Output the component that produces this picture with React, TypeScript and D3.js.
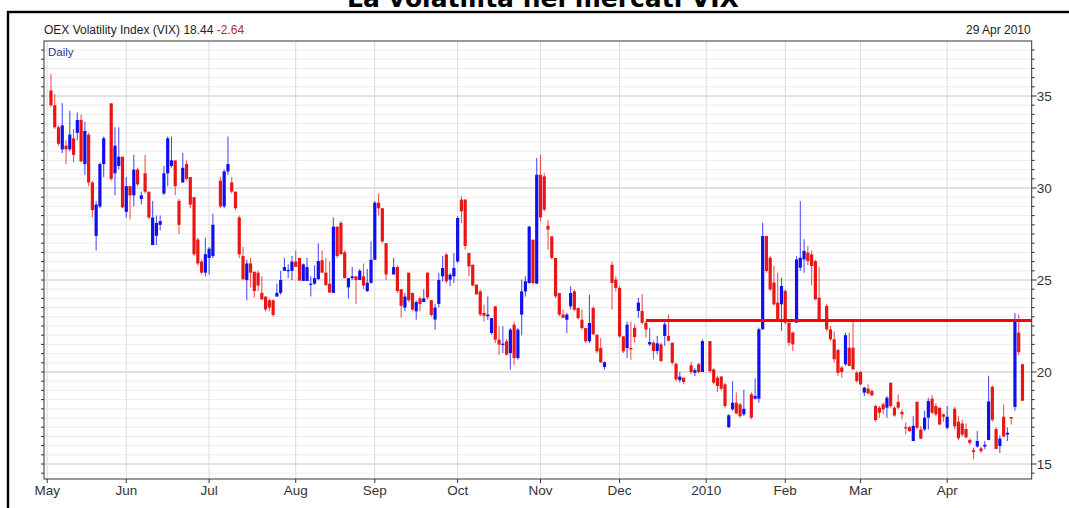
import React from 'react';
import * as d3 from 'd3';

type Row = [number, number, number, number, number]; // day, open, high, low, close

const may09: Row[] = [
  [4, 35.3, 36.2, 34.4, 34.5], [5, 34.5, 35.1, 33.2, 33.3], [6, 33.3, 33.4, 32.3, 32.4],
  [7, 32.1, 34.6, 31.9, 33.4], [8, 32.3, 32.6, 31.3, 32.1], [11, 32.1, 34.2, 32.0, 32.9],
  [12, 32.7, 33.2, 31.4, 31.8], [13, 33.0, 34.1, 32.6, 33.7], [14, 33.7, 34.0, 31.4, 31.45],
  [15, 31.3, 33.6, 30.7, 33.1], [18, 32.9, 33.0, 30.1, 30.3], [19, 30.3, 30.4, 28.4, 28.8],
  [20, 27.4, 29.3, 26.6, 29.1], [21, 29.0, 31.4, 28.9, 31.3], [22, 31.3, 32.8, 30.6, 32.7],
  [26, 34.6, 34.6, 30.4, 30.5], [27, 30.8, 33.3, 29.6, 32.3], [28, 31.2, 33.3, 31.0, 31.7],
  [29, 31.7, 31.7, 28.9, 28.95],
];
const jun09: Row[] = [
  [1, 28.7, 30.6, 28.4, 30.1], [2, 30.1, 30.1, 28.3, 29.6], [3, 29.6, 31.8, 29.0, 31.0],
  [4, 31.0, 31.1, 30.1, 30.2], [5, 29.4, 29.8, 29.1, 29.6], [8, 30.8, 31.8, 29.7, 29.8],
  [9, 29.8, 29.8, 28.3, 28.4], [10, 26.9, 29.3, 26.9, 28.4], [11, 27.4, 28.5, 26.9, 28.1],
  [12, 28.0, 28.5, 27.7, 28.2], [15, 29.7, 31.2, 29.6, 30.8], [16, 30.8, 32.8, 30.1, 32.7],
  [17, 31.2, 32.8, 31.1, 31.5], [18, 31.5, 31.5, 29.6, 30.1], [19, 29.3, 29.4, 27.5, 28.0],
  [22, 30.3, 31.9, 30.3, 31.1], [23, 31.3, 31.5, 30.4, 30.5], [24, 30.6, 30.6, 28.9, 29.1],
  [25, 29.5, 29.5, 26.3, 26.4], [26, 27.2, 27.3, 25.8, 25.9], [29, 26.0, 26.1, 25.3, 25.4],
  [30, 25.4, 27.3, 25.2, 26.4],
];
const jul09: Row[] = [
  [1, 26.2, 26.8, 25.3, 26.7], [2, 26.3, 28.6, 26.2, 28.0], [6, 30.4, 30.6, 28.9, 29.0],
  [7, 29.0, 31.0, 28.9, 30.9], [8, 30.9, 32.8, 30.7, 31.3], [9, 30.3, 30.6, 29.7, 29.8],
  [10, 29.8, 29.8, 28.8, 28.9], [13, 28.4, 28.5, 26.2, 26.4], [14, 26.3, 26.8, 25.0, 25.05],
  [15, 25.0, 26.1, 23.9, 25.9], [16, 25.9, 26.2, 24.6, 25.4], [17, 25.45, 25.45, 24.05, 24.4],
  [20, 25.4, 25.5, 24.4, 24.7], [21, 24.3, 25.2, 23.9, 23.95], [22, 24.1, 24.1, 23.3, 23.4],
  [23, 23.9, 24.0, 23.3, 23.5], [24, 23.9, 23.95, 23.0, 23.1], [27, 24.1, 24.8, 24.1, 24.3],
  [28, 24.3, 25.5, 24.2, 25.0], [29, 25.5, 26.2, 25.5, 25.7], [30, 25.5, 25.85, 25.1, 25.55],
  [31, 25.5, 26.3, 25.0, 26.0],
];
const aug09: Row[] = [
  [3, 26.0, 26.6, 25.7, 25.72], [4, 26.2, 26.2, 24.95, 24.97], [5, 24.95, 25.9, 24.95, 25.85],
  [6, 24.95, 26.2, 24.95, 25.7], [7, 24.75, 25.2, 24.1, 24.8], [10, 24.8, 25.8, 24.75, 25.1],
  [11, 25.04, 27.0, 25.04, 26.03], [12, 26.07, 26.6, 25.4, 25.4], [13, 25.4, 26.2, 24.7, 24.72],
  [14, 24.8, 26.0, 24.3, 24.32], [17, 24.3, 28.4, 24.3, 27.9], [18, 27.9, 27.9, 26.2, 26.3],
  [19, 28.1, 28.2, 26.4, 26.4], [20, 26.5, 26.6, 25.1, 25.1], [21, 24.6, 25.1, 24.0, 25.1],
  [24, 25.1, 25.7, 25.0, 25.2], [25, 25.2, 25.2, 23.7, 25.0], [26, 25.0, 25.6, 25.0, 25.5],
  [27, 25.2, 25.9, 24.5, 24.7], [28, 24.4, 25.6, 24.35, 24.85], [31, 24.85, 27.1, 24.8, 26.1],
];
const sep09: Row[] = [
  [1, 26.1, 29.3, 26.1, 29.2], [2, 29.2, 29.7, 28.5, 28.9], [3, 28.9, 28.9, 27.0, 27.1],
  [4, 27.0, 27.0, 25.0, 25.3], [8, 25.3, 26.2, 25.3, 25.7], [9, 25.7, 25.8, 24.3, 24.4],
  [10, 24.5, 24.5, 22.95, 23.6], [11, 23.5, 24.3, 23.3, 24.1], [14, 25.4, 25.4, 23.8, 23.9],
  [15, 24.3, 24.3, 23.3, 23.4], [16, 23.3, 23.9, 22.85, 23.8], [17, 24.0, 24.1, 23.3, 23.7],
  [18, 23.8, 24.5, 23.8, 24.0], [21, 25.4, 25.4, 23.95, 24.05], [22, 23.9, 23.9, 23.0, 23.1],
  [23, 22.85, 23.7, 22.3, 23.5], [24, 23.7, 25.4, 23.5, 25.0], [25, 25.2, 26.3, 24.9, 25.65],
  [28, 26.38, 26.47, 24.84, 24.93], [29, 25.02, 25.38, 24.66, 25.29], [30, 25.2, 26.47, 24.84, 25.65],
];
const oct09: Row[] = [
  [1, 26.01, 28.46, 25.92, 28.37], [2, 29.37, 29.55, 28.1, 28.73], [5, 29.37, 29.4, 26.65, 26.85],
  [6, 26.47, 26.47, 25.2, 25.74], [7, 25.83, 25.83, 24.66, 24.7], [8, 24.75, 24.75, 24.2, 24.22],
  [9, 24.38, 24.47, 23.03, 23.12], [12, 23.21, 23.66, 22.75, 23.06], [13, 23.03, 24.11, 22.84, 23.12],
  [14, 22.12, 22.93, 22.03, 22.93], [15, 23.57, 23.57, 21.58, 21.76], [16, 21.76, 22.48, 20.94, 21.49],
  [19, 21.49, 22.48, 21.03, 21.54], [20, 21.67, 21.79, 20.89, 20.94], [21, 21.03, 22.39, 20.13, 22.3],
  [22, 22.57, 22.75, 20.4, 20.76], [23, 20.76, 22.39, 20.67, 22.3], [26, 23.12, 25.02, 22.0, 24.38],
  [27, 24.38, 25.2, 24.11, 24.93], [28, 24.84, 27.95, 24.8, 27.9], [29, 27.19, 27.19, 24.75, 24.84],
  [30, 24.8, 31.63, 24.8, 30.72],
];
const nov09: Row[] = [
  [2, 30.72, 31.81, 28.19, 28.4], [3, 30.63, 30.82, 28.73, 28.82], [4, 27.95, 28.28, 26.65, 27.74],
  [5, 27.37, 27.37, 26.11, 26.2], [6, 26.2, 26.2, 24.02, 24.11], [9, 24.29, 24.29, 23.03, 23.12],
  [10, 23.12, 23.39, 22.93, 22.95], [11, 22.84, 23.21, 22.12, 23.12], [12, 23.57, 24.66, 23.39, 24.29],
  [13, 24.38, 24.47, 23.3, 23.39], [16, 23.48, 23.48, 22.84, 22.93], [17, 22.84, 23.39, 22.3, 22.39],
  [18, 22.39, 22.39, 21.58, 21.67], [19, 21.67, 24.2, 21.58, 22.66], [20, 23.48, 23.57, 22.03, 22.05],
  [23, 22.03, 22.03, 21.03, 21.12], [24, 21.3, 21.85, 20.49, 20.53], [25, 20.27, 20.58, 20.13, 20.53],
  [27, 25.83, 26.01, 23.39, 24.84], [30, 25.02, 25.2, 24.38, 24.57],
];
const dec09: Row[] = [
  [1, 24.57, 24.66, 21.85, 21.94], [2, 21.94, 21.94, 21.03, 21.12], [3, 21.3, 22.75, 20.76, 22.57],
  [4, 21.3, 22.75, 20.67, 21.25], [7, 22.4, 22.6, 21.6, 21.9], [8, 23.32, 24.04, 22.95, 23.77],
  [9, 23.32, 24.22, 22.59, 22.68], [10, 22.68, 22.77, 21.87, 22.32], [11, 21.5, 22.41, 21.41, 21.63],
  [14, 21.59, 21.7, 20.69, 21.14], [15, 21.14, 21.96, 20.96, 21.56], [16, 21.5, 21.6, 20.55, 20.6],
  [17, 21.96, 22.72, 21.41, 22.59], [18, 21.96, 23.13, 21.68, 21.7], [21, 21.59, 21.59, 20.4, 20.5],
  [22, 20.45, 20.5, 19.5, 19.6], [23, 19.56, 20.0, 19.42, 19.75], [24, 19.69, 19.69, 19.33, 19.46],
  [28, 20.36, 20.55, 19.87, 20.0], [29, 19.96, 20.2, 19.78, 20.1], [30, 20.42, 20.5, 19.93, 20.0],
  [31, 20.0, 21.77, 20.0, 21.68],
];
const jan10: Row[] = [
  [4, 21.68, 21.68, 19.96, 20.05], [5, 20.14, 20.2, 19.33, 19.42], [6, 19.69, 19.8, 18.91, 19.24],
  [7, 19.75, 19.78, 19.0, 19.1], [8, 19.33, 19.42, 18.06, 18.15], [11, 17.0, 17.7, 16.95, 17.65],
  [12, 17.97, 19.5, 17.9, 18.33], [13, 18.33, 18.88, 17.7, 17.75], [14, 18.24, 18.33, 17.5, 17.6],
  [15, 17.7, 19.04, 17.61, 18.0], [19, 18.79, 18.88, 17.43, 17.52], [20, 18.55, 19.66, 18.5, 18.7],
  [21, 18.55, 22.4, 18.33, 22.32], [22, 22.32, 28.12, 22.3, 27.39], [25, 27.39, 27.4, 25.4, 25.49],
  [26, 26.21, 26.3, 24.4, 24.49], [27, 24.86, 25.76, 23.6, 23.68], [28, 23.77, 25.4, 22.8, 22.86],
  [29, 23.68, 25.13, 22.23, 24.67],
];
const feb10: Row[] = [
  [1, 24.4, 24.5, 22.6, 22.68], [2, 22.68, 22.68, 21.41, 21.59], [3, 22.14, 22.2, 21.14, 21.5],
  [4, 22.68, 26.3, 22.68, 26.12], [5, 25.67, 29.29, 25.5, 26.21], [8, 26.12, 27.21, 25.4, 26.58],
  [9, 26.49, 26.85, 25.8, 26.03], [10, 26.39, 26.6, 24.7, 25.76], [11, 26.03, 26.1, 23.9, 23.95],
  [12, 24.04, 25.7, 22.8, 22.86], [16, 23.59, 23.7, 22.2, 22.32], [17, 22.32, 22.5, 21.7, 21.78],
  [18, 21.78, 22.2, 20.5, 20.69], [19, 21.2, 21.25, 19.8, 19.95], [22, 20.24, 20.33, 19.7, 20.0],
  [23, 20.42, 22.14, 20.33, 22.0], [24, 21.32, 22.14, 20.33, 20.33], [25, 21.32, 22.77, 20.14, 20.14],
  [26, 19.96, 20.05, 19.42, 19.51],
];
const mar10: Row[] = [
  [1, 20.0, 20.05, 19.28, 19.33], [2, 18.88, 19.2, 18.7, 19.15], [3, 19.1, 19.33, 18.79, 18.84],
  [4, 18.97, 19.06, 18.7, 18.73], [5, 18.15, 18.24, 17.3, 17.39], [8, 18.06, 18.15, 17.52, 17.79],
  [9, 18.24, 18.33, 17.7, 17.97], [10, 18.06, 18.7, 17.52, 18.6], [11, 19.42, 19.42, 18.06, 18.15],
  [12, 18.06, 18.15, 17.57, 17.64], [15, 18.37, 18.79, 17.97, 18.06], [16, 17.83, 17.97, 17.43, 17.7],
  [17, 17.0, 17.25, 16.6, 16.95], [18, 17.0, 17.07, 16.75, 16.79], [19, 16.25, 17.6, 16.25, 17.07],
  [22, 18.37, 18.42, 16.88, 16.97], [23, 16.88, 17.07, 16.34, 16.38], [24, 16.88, 17.88, 16.79, 17.52],
  [25, 17.52, 18.6, 16.88, 18.42], [26, 18.55, 18.73, 17.7, 17.79], [29, 18.15, 18.3, 17.6, 17.7],
  [30, 18.06, 18.06, 17.1, 17.15], [31, 17.7, 17.75, 17.3, 17.57],
];
const apr10: Row[] = [
  [1, 16.97, 18.15, 16.88, 17.57], [5, 18.0, 18.1, 16.9, 17.05], [6, 17.3, 17.6, 16.3, 16.4],
  [7, 17.2, 17.4, 16.5, 16.6], [8, 16.9, 17.2, 16.4, 16.45], [9, 16.3, 16.4, 16.05, 16.15],
  [12, 15.75, 15.9, 15.25, 15.65], [13, 15.95, 16.8, 15.9, 16.25], [14, 15.85, 15.95, 15.6, 15.7],
  [15, 15.95, 16.25, 15.8, 16.05], [16, 16.3, 19.8, 16.3, 18.4], [19, 19.2, 19.25, 17.3, 17.4],
  [20, 16.9, 17.0, 15.8, 15.82], [21, 15.98, 16.55, 15.6, 16.38], [22, 17.57, 18.24, 16.45, 16.5],
  [23, 16.6, 17.0, 16.25, 16.7], [26, 17.55, 17.55, 17.15, 17.47], [27, 18.1, 23.2, 17.9, 22.81],
  [28, 22.14, 23.13, 20.9, 21.08], [29, 20.42, 20.45, 18.44, 18.44],
];

const monthBlocks: { year: number; month: number; rows: Row[] }[] = [
  { year: 2009, month: 4, rows: may09 }, { year: 2009, month: 5, rows: jun09 },
  { year: 2009, month: 6, rows: jul09 }, { year: 2009, month: 7, rows: aug09 },
  { year: 2009, month: 8, rows: sep09 }, { year: 2009, month: 9, rows: oct09 },
  { year: 2009, month: 10, rows: nov09 }, { year: 2009, month: 11, rows: dec09 },
  { year: 2010, month: 0, rows: jan10 }, { year: 2010, month: 1, rows: feb10 },
  { year: 2010, month: 2, rows: mar10 }, { year: 2010, month: 3, rows: apr10 },
];

const monthTickLabels = ['May', 'Jun', 'Jul', 'Aug', 'Sep', 'Oct', 'Nov', 'Dec', '2010', 'Feb', 'Mar', 'Apr'];
const yTickLabels = [15, 20, 25, 30, 35];
const resistanceStart = new Date(2009, 11, 10);
const resistanceValue = 22.8;

const titleText = 'La volatilità nei mercati VIX';
const headerName = 'OEX Volatility Index (VIX) 18.44 ';
const headerChange = '-2.64';
const headerDate = '29 Apr 2010';
const periodLabel = 'Daily';

const FONT = '"Liberation Sans", Arial, sans-serif';
const BLUE = '#1010ee';
const RED = '#ec1515';

export default function App() {
  const W = 1069, H = 508;
  const plot = { left: 44, right: 1031.7, top: 41, bottom: 479 };
  const base = new Date(2009, 4, 1);
  const isWeekday = (d: Date) => d.getDay() !== 0 && d.getDay() !== 6;
  const wIndex = (d: Date) => d3.timeDay.range(base, d).filter(isWeekday).length;

  const x = d3.scaleLinear().domain([-0.85, 261.45]).range([plot.left, plot.right]);
  const y = d3.scaleLinear().domain([15, 35]).range([464, 96]);

  const candles = monthBlocks.flatMap(({ year, month, rows }) =>
    rows.map(([day, o, h, l, c]) => ({ w: wIndex(new Date(year, month, day)), o, h, l, c }))
  );

  const yLo = y.invert(plot.bottom), yHi = y.invert(plot.top);
  const halfTicks = d3.range(Math.ceil(yLo * 2) / 2, yHi, 0.5);

  const monthStarts = d3.timeMonth.range(new Date(2009, 4, 1), new Date(2010, 4, 1)).map((m) => {
    let d = new Date(m);
    while (!isWeekday(d)) d = d3.timeDay.offset(d, 1);
    return wIndex(d);
  });

  const bw = 3.2;

  return (
    <svg width={W} height={H} style={{ position: 'absolute', left: 0, top: 0, background: '#fff' }}
      fontFamily={FONT}>
      <rect x={0} y={0} width={W} height={H} fill="#fff" />
      <text x={543} y={6.5} textAnchor="middle" fontFamily='"DejaVu Sans", Verdana, sans-serif'
        fontWeight="bold" fontSize={25} fill="#000">{titleText}</text>
      <rect x={8} y={12} width={1100} height={600} fill="none" stroke="#000" strokeWidth={2.4} />

      <text x={plot.left} y={34} fontSize={12} fill="#222">
        {headerName}<tspan fill="#b02a2a">{headerChange}</tspan>
      </text>
      <text x={plot.right - 1} y={34} fontSize={12} fill="#222" textAnchor="end">{headerDate}</text>

      {/* grid */}
      <g>
        {halfTicks.map((v) => (
          <line key={'h' + v} x1={plot.left} x2={plot.right} y1={y(v)} y2={y(v)}
            stroke={v % 5 === 0 ? '#c4c4c4' : '#ececec'} strokeWidth={1} />
        ))}
        {monthStarts.map((w, i) => (
          <line key={'v' + i} x1={x(w)} x2={x(w)} y1={plot.top} y2={plot.bottom} stroke="#dcdcdc" strokeWidth={1} />
        ))}
      </g>

      <text x={plot.left + 4} y={56} fontSize={11.5} fill="#2e2e9c">{periodLabel}</text>

      {/* candles */}
      <g>
        {candles.map((d, i) => {
          const up = d.c >= d.o;
          const col = up ? BLUE : RED;
          const cx = x(d.w);
          const yTop = y(Math.max(d.o, d.c));
          const hgt = Math.max(1.3, Math.abs(y(d.o) - y(d.c)));
          return (
            <g key={i}>
              <line x1={cx} x2={cx} y1={y(d.h)} y2={y(d.l)} stroke={col} strokeOpacity={0.72} strokeWidth={1.1} />
              <rect x={cx - bw / 2} y={yTop} width={bw} height={hgt} fill={col} />
            </g>
          );
        })}
      </g>

      {/* resistance line */}
      <line x1={x(wIndex(resistanceStart))} x2={plot.right} y1={y(resistanceValue)} y2={y(resistanceValue)}
        stroke="#ff0000" strokeWidth={2.8} />

      {/* frame */}
      <rect x={plot.left} y={plot.top} width={plot.right - plot.left} height={plot.bottom - plot.top}
        fill="none" stroke="#333" strokeWidth={1} />

      {/* y ticks */}
      {halfTicks.map((v) => (
        <g key={'t' + v}>
          <line x1={plot.right} x2={plot.right + (v % 5 === 0 ? 5 : 3)} y1={y(v)} y2={y(v)} stroke="#333" />
          <line x1={plot.left - 3} x2={plot.left} y1={y(v)} y2={y(v)} stroke="#333" />
        </g>
      ))}
      {yTickLabels.map((v) => (
        <text key={'yl' + v} x={plot.right + 5} y={y(v)} dy="0.36em" fontSize={13.5} fill="#333">{v}</text>
      ))}

      {/* x ticks */}
      {monthStarts.map((w, i) => (
        <g key={'xt' + i}>
          <line x1={x(w)} x2={x(w)} y1={plot.bottom} y2={plot.bottom + 4} stroke="#333" />
          <text x={x(w)} y={495} textAnchor="middle" fontSize={13.5} fill="#333">{monthTickLabels[i]}</text>
        </g>
      ))}
    </svg>
  );
}
